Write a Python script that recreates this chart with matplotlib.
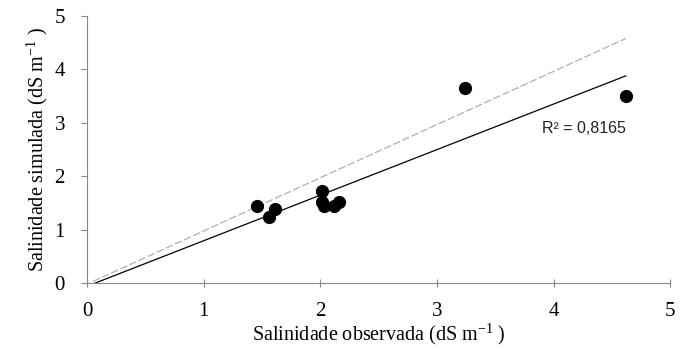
import numpy as np
from matplotlib import pyplot as plt

# Salinidade observada vs simulada (dS m-1)
observada = [1.46, 1.56, 1.61, 2.01, 2.01, 2.03, 2.12, 2.16, 3.24, 4.62]
simulada = [1.44, 1.24, 1.39, 1.73, 1.52, 1.45, 1.45, 1.51, 3.66, 3.51]

# Linha de tendência e linha 1:1
tendencia_x = [0.07, 4.62]
tendencia_y = [0.0, 3.88]
linha_11_x = [0.05, 4.62]
linha_11_y = [0.03, 4.58]

r2_tekst = "R² = 0,8165"


def main() -> None:
    plt.rcParams["font.family"] = ["Liberation Serif", "DejaVu Serif"]
    plt.rcParams["mathtext.fontset"] = "custom"
    plt.rcParams["mathtext.rm"] = "Liberation Serif"
    plt.rcParams["mathtext.it"] = "Liberation Serif:italic"

    fig = plt.figure(figsize=(6.81, 3.49), dpi=100)
    ax = fig.add_axes([0.128, 0.189, 0.856, 0.765])

    # Linha 1:1 (cinza clara, tracejada)
    ax.plot(linha_11_x, linha_11_y, color="#b0b0b0", lw=0.9, ls=(0, (6, 2)))
    # Linha de tendência
    ax.plot(tendencia_x, tendencia_y, color="black", lw=0.9)
    # Pontos
    ax.plot(observada, simulada, "o", color="black", markersize=8.5)

    ax.text(4.62, 2.9, r2_tekst, ha="right", va="center", fontsize=11.5,
            family=["Liberation Sans", "DejaVu Sans"], color="#222222")

    ax.set_xlim(0, 5)
    ax.set_ylim(0, 5)
    ax.set_xticks(range(6))
    ax.set_yticks(range(6))

    for side in ["top", "right"]:
        ax.spines[side].set_visible(False)
    for side in ["left", "bottom"]:
        ax.spines[side].set_color("#888888")
        ax.spines[side].set_linewidth(0.8)

    ax.tick_params(axis="x", direction="inout", length=6, color="#888888", labelsize=15, pad=11)
    ax.tick_params(axis="y", direction="out", length=4, color="#888888", labelsize=15, pad=12)

    ax.set_xlabel(r"Salinidade observada (dS m$^{\mathrm{-1}}$ )", fontsize=14.5, labelpad=0)
    ax.set_ylabel(r"Salinidade simulada (dS m$^{\mathrm{-1}}$ )", fontsize=14.5, labelpad=3)

    fig.savefig("out.png", dpi=100)


if __name__ == "__main__":
    main()
